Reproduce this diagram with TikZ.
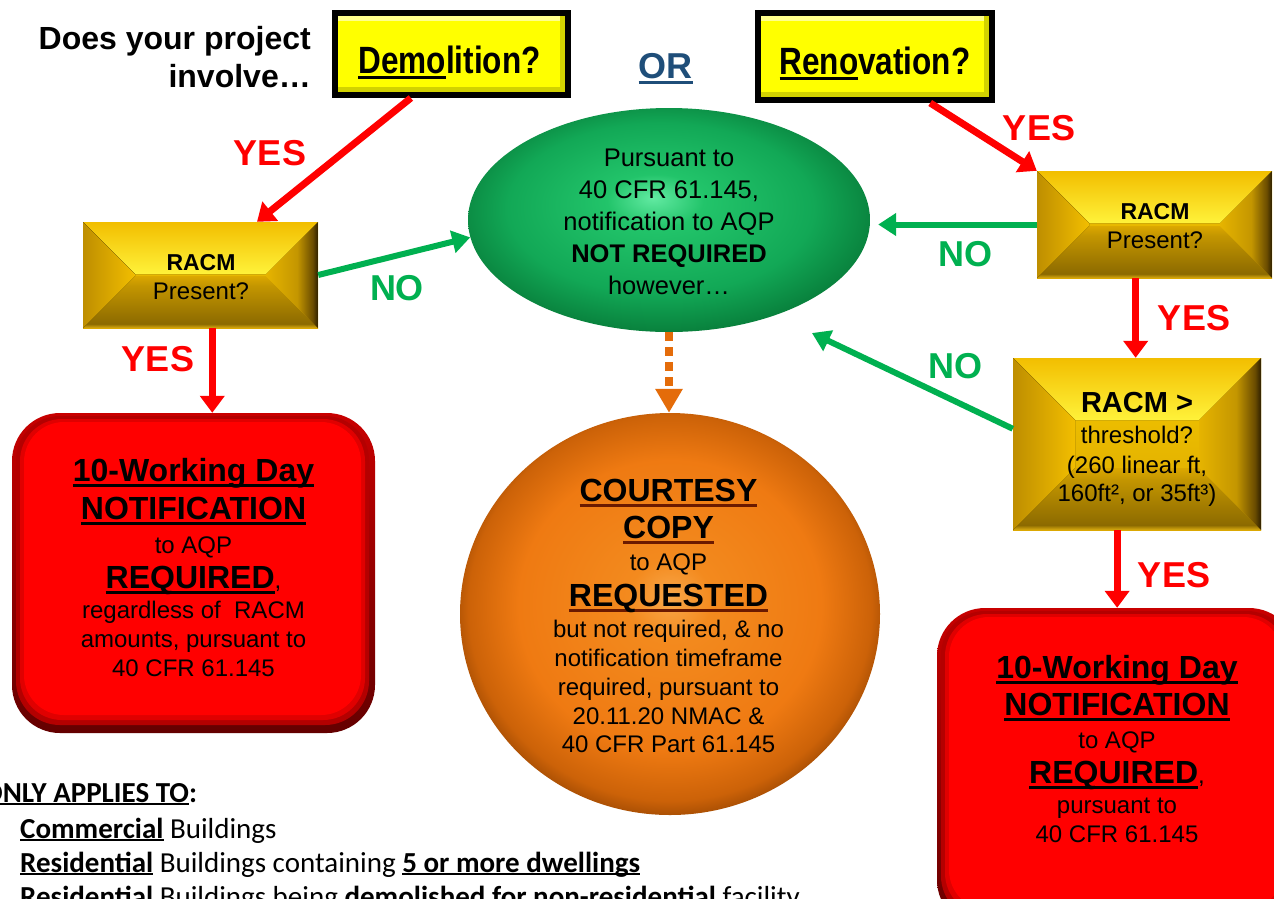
\documentclass[tikz,border=0pt]{standalone}
\usepackage{fontspec}
\setmainfont{Liberation Sans}
\newfontfamily\calfont{Carlito}
\newfontfamily\narrowfont[FakeStretch=0.83]{Liberation Sans}
\usetikzlibrary{arrows.meta,shapes.geometric,calc}

\definecolor{arrred}{HTML}{FF0000}
\definecolor{arrgreen}{HTML}{00B050}
\definecolor{arrorange}{HTML}{E46C0A}
\definecolor{orblue}{HTML}{1F4E79}
\definecolor{boxyellow}{HTML}{FFFF00}
\definecolor{yLight}{HTML}{FFFF8C}
\definecolor{yDark}{HTML}{D2D200}
\definecolor{gA}{HTML}{FFF23A}
\definecolor{gB}{HTML}{F2BE00}
\definecolor{gC}{HTML}{BE8E00}
\definecolor{gD}{HTML}{2E2000}
\definecolor{gE}{HTML}{8C6A00}
\definecolor{gF}{HTML}{E6B400}
\definecolor{gG}{HTML}{C49600}
\definecolor{gH}{HTML}{DDAE10}
\definecolor{gI}{HTML}{6A4C00}
\definecolor{gJ}{HTML}{F4C800}
\definecolor{gK}{HTML}{DCA800}
\definecolor{rA}{HTML}{FF0000}
\definecolor{rB}{HTML}{E00000}
\definecolor{rC}{HTML}{B40000}
\definecolor{rD}{HTML}{C80000}
\definecolor{rE}{HTML}{640000}
\definecolor{grA}{HTML}{62EAA2}
\definecolor{grB}{HTML}{22C46A}
\definecolor{grC}{HTML}{12A856}
\definecolor{grD}{HTML}{077A38}
\definecolor{oA}{HTML}{F9A84A}
\definecolor{oB}{HTML}{F38A1E}
\definecolor{oC}{HTML}{EF7A12}
\definecolor{oD}{HTML}{CC6208}
\definecolor{oE}{HTML}{8A3E00}
\definecolor{ulbrown}{HTML}{6B1A00}

\pgfdeclareradialshading{greenball}{\pgfpoint{-2bp}{5bp}}{color(0bp)=(grA); color(6bp)=(grB); color(19bp)=(grC); color(28bp)=(grD); color(40bp)=(grD)}
\pgfdeclareradialshading{orangeball}{\pgfpoint{0bp}{2bp}}{color(0bp)=(oA); color(5bp)=(oB); color(18bp)=(oC); color(24bp)=(oD); color(27.5bp)=(oE); color(40bp)=(oE)}
\pgfdeclareverticalshading{goldbottom}{100bp}{color(0bp)=(gH); color(25bp)=(gH); color(29bp)=(gE); color(66bp)=(gG); color(75bp)=(gK); color(100bp)=(gK)}
\pgfdeclarehorizontalshading{goldright}{100bp}{color(0bp)=(gF); color(25bp)=(gF); color(55bp)=(gG); color(70bp)=(gI); color(75bp)=(gD); color(100bp)=(gD)}

\newcommand\tightls{\lineskiplimit=-100pt\relax}
\newcommand\myul[2][black]{\setbox0\hbox{#2}\rlap{\color{#1}\rule[-0.17em]{\wd0}{0.085em}}\box0\relax}
\newcommand\myulc[1]{\setbox0\hbox{#1}\rlap{\rule[-0.11em]{\wd0}{0.065em}}\box0\relax}
\newcommand\bigb[1]{{\fontsize{32}{32}\selectfont\bfseries\myul{#1}}}
\newcommand\bigo[1]{{\fontsize{32}{32}\selectfont\bfseries\myul[ulbrown]{#1}}}

\newcommand\goldbevel[1]{%
 \coordinate (gbNW) at (path picture bounding box.north west);
 \coordinate (gbSE) at (path picture bounding box.south east);
 \coordinate (gbNE) at (gbSE |- gbNW);
 \coordinate (gbSW) at (gbNW |- gbSE);
 \coordinate (giNW) at ($(gbNW)+(#1pt,-#1pt)$);
 \coordinate (giNE) at ($(gbNE)+(-#1pt,-#1pt)$);
 \coordinate (giSW) at ($(gbSW)+(#1pt,#1pt)$);
 \coordinate (giSE) at ($(gbSE)+(-#1pt,#1pt)$);
 \fill[top color=gJ, bottom color=gK] (gbNW) rectangle (gbSE);
 \fill[top color=gB, bottom color=gA] (gbNW) -- (gbNE) -- (giNE) -- (giNW) -- cycle;
 \shade[shading=goldbottom] (giSW) -- (giSE) -- (gbSE) -- (gbSW) -- cycle;
 \fill[left color=gC, right color=gB] (gbNW) -- (giNW) -- (giSW) -- (gbSW) -- cycle;
 \shade[shading=goldright] (gbNE) -- (gbSE) -- (giSE) -- (giNE) -- cycle;
}
\newcommand\yelbevel{%
 \coordinate (ybA) at ($(path picture bounding box.north west)+(3pt,-3pt)$);
 \coordinate (ybB) at ($(path picture bounding box.south east)+(-3pt,3pt)$);
 \fill[yLight] (ybA) rectangle ($(ybB |- ybA)+(0pt,-5pt)$);
 \fill[yDark] ($(ybA |- ybB)+(0pt,5pt)$) rectangle (ybB);
 \fill[yDark] ($(ybB |- ybA)+(-5pt,0pt)$) rectangle (ybB);
}
\newcommand\redbevel{%
 \coordinate (rbA) at (path picture bounding box.north west);
 \coordinate (rbB) at (path picture bounding box.south east);
 \fill[rC, rounded corners=44pt] ($(rbA)+(4pt,-3pt)$) rectangle ($(rbB)+(-6pt,8pt)$);
 \fill[rB, rounded corners=42pt] ($(rbA)+(8pt,-6pt)$) rectangle ($(rbB)+(-10pt,13pt)$);
 \fill[rA, rounded corners=40pt] ($(rbA)+(12pt,-9pt)$) rectangle ($(rbB)+(-14pt,18pt)$);
}

\tikzset{
 goldbox/.style={rectangle, inner sep=0pt, draw=none, path picture={\goldbevel{#1}}},
 yelbox/.style={rectangle, inner sep=0pt, draw=black, line width=6pt, fill=boxyellow, path picture={\yelbevel}},
 redbox/.style={rectangle, rounded corners=48pt, inner sep=0pt, top color=rD, bottom color=rE, path picture={\redbevel}},
 txt/.style={inner sep=0pt, align=center, text=black},
 smalltxt/.style={txt, font=\tightls\fontsize{24}{29}\selectfont},
 yeslbl/.style={inner sep=0pt, font=\fontsize{36}{36}\selectfont\bfseries, text=arrred},
 nolbl/.style={inner sep=0pt, font=\fontsize{36}{36}\selectfont\bfseries, text=arrgreen},
 redarr/.style={draw=arrred, line width=7pt, -{Triangle[width=24pt,length=17pt]}},
 greenarr/.style={draw=arrgreen, line width=6pt, -{Triangle[width=22pt,length=18pt]}},
 orarr/.style={draw=arrorange, line width=8pt, dash pattern=on 9pt off 6pt, -{Triangle[width=26pt,length=24pt]}},
 btm/.style={inner sep=0pt, anchor=base west, font=\calfont\fontsize{29}{34}\selectfont}
}

\begin{document}
\begin{tikzpicture}[x=1pt,y=-1pt]
\useasboundingbox (0,0) rectangle (1274,898);
\clip (0,0) rectangle (1274,898);
\fill[white] (0,0) rectangle (1274,898);

% shapes
\node[yelbox, minimum width=233pt, minimum height=82pt] (dem) at (451.5,54) {};
\node[yelbox, minimum width=234pt, minimum height=87pt] (ren) at (875,56.5) {};
\node[ellipse, inner sep=0pt, minimum width=402pt, minimum height=224pt, shade, shading=greenball] (ell) at (669,220) {};
\node[ellipse, inner sep=0pt, minimum width=420pt, minimum height=402pt, shade, shading=orangeball] (org) at (670,614) {};
\node[goldbox=52, minimum width=235pt, minimum height=106pt] (rl) at (200.5,275) {};
\node[goldbox=52, minimum width=235pt, minimum height=107pt] (rr) at (1154.5,224.5) {};
\node[goldbox=62, minimum width=248pt, minimum height=172pt] (th) at (1137,444) {};
\node[redbox, minimum width=363pt, minimum height=320pt] (lr) at (193.5,573) {};
\node[redbox, minimum width=360pt, minimum height=320pt] (rb) at (1117,768) {};

% texts
\node[inner sep=0pt, align=right, anchor=east, font=\tightls\fontsize{32}{38}\selectfont\bfseries] (ask) at (311,57) {Does your project\\involve…};
\node[inner sep=0pt, anchor=base, font=\narrowfont\fontsize{38}{38}\selectfont\bfseries] (demt) at (449.5,73) {\myul{Demo}lition?};
\node[inner sep=0pt, anchor=base, font=\narrowfont\fontsize{38}{38}\selectfont\bfseries] (rent) at (875,74) {\myul{Reno}vation?};
\node[inner sep=0pt, anchor=base, text=orblue, font=\fontsize{36}{36}\selectfont\bfseries] (ort) at (665.5,78) {\myul[orblue]{OR}};

\node[txt, font=\tightls\fontsize{25.5}{32}\selectfont] (ellt) at (669,222) {Pursuant to\\40 CFR 61.145,\\notification to AQP\\\textbf{NOT REQUIRED}\\however…};

\node[smalltxt] (rlt) at (201,277) {{\fontsize{23}{23}\selectfont\bfseries RACM}\\Present?};
\node[smalltxt] (rrt) at (1155,226) {{\fontsize{23}{23}\selectfont\bfseries RACM}\\Present?};
\node[smalltxt] (tht) at (1137,449) {{\fontsize{29}{29}\selectfont\bfseries RACM >}\\[2pt]threshold?\\[1pt](260 linear ft,\\[-1pt]160ft², or 35ft³)};

\node[smalltxt] (lrt) at (193.5,567.5) {\bigb{10-Working Day}\\[9pt]\bigb{NOTIFICATION}\\[5pt]to AQP\\[6pt]\bigb{REQUIRED},\\[1pt]regardless of\ \ RACM\\amounts, pursuant to\\40 CFR 61.145};
\node[smalltxt] (rbt) at (1117,749) {\bigb{10-Working Day}\\[8pt]\bigb{NOTIFICATION}\\[4pt]to AQP\\[6pt]\bigb{REQUIRED},\\[1pt]pursuant to\\40 CFR 61.145};
\node[smalltxt] (orgt) at (668.5,616) {\bigo{COURTESY}\\[8pt]\bigo{COPY}\\[3pt]to AQP\\[7pt]\bigo{REQUESTED}\\[2pt]but not required, \& no\\notification timeframe\\required, pursuant to\\20.11.20 NMAC \&\\[-1pt]40 CFR Part 61.145};

% connectors
\draw[redarr] ($(dem.south west)!0.33!(dem.south east)$) -- ($(rl.north west)!0.74!(rl.north east)$);
\draw[redarr] ($(rl.south west)!0.55!(rl.south east)$) coordinate (a2) -- (a2 |- lr.north);
\draw[greenarr] (rl.east) -- (ell.185);
\draw[redarr] ($(ren.south west)!0.73!(ren.south east)$) -- (rr.north west);
\draw[greenarr, shorten >=8pt] (rr.west) -- (rr.west -| ell.east);
\draw[redarr] ($(rr.south west)!0.42!(rr.south east)$) coordinate (a6) -- (a6 |- th.north);
\draw[greenarr, shorten >=41pt] (th.173) -- (ell.318);
\draw[redarr] ($(th.south west)!0.42!(th.south east)$) coordinate (a8) -- (a8 |- rb.north);
\draw[orarr] (ell.south) -- (ell.south |- org.north);

% labels
\node[yeslbl] (y1) at (270,153) {YES};
\node[yeslbl] (y2) at (158,359) {YES};
\node[nolbl] (n1) at (397,288) {NO};
\node[yeslbl] (y3) at (1039,128) {YES};
\node[nolbl] (n2) at (965,254) {NO};
\node[yeslbl] (y4) at (1194,318) {YES};
\node[nolbl] (n3) at (955,366) {NO};
\node[yeslbl] (y5) at (1174,575) {YES};

% bottom text
\node[btm] (b1) at (-17,802) {\myulc{\textbf{ONLY APPLIES TO}}\textbf{:}};
\node[btm] (b2) at (20,838) {\myulc{\textbf{Commercial}} Buildings};
\node[btm] (b3) at (20,872) {\myulc{\textbf{Residential}} Buildings containing \myulc{\textbf{5 or more dwellings}}};
\node[btm] (b4) at (20,906) {\myulc{\textbf{Residential}} Buildings being \textbf{demolished for non-residential} facility};
\end{tikzpicture}
\end{document}
